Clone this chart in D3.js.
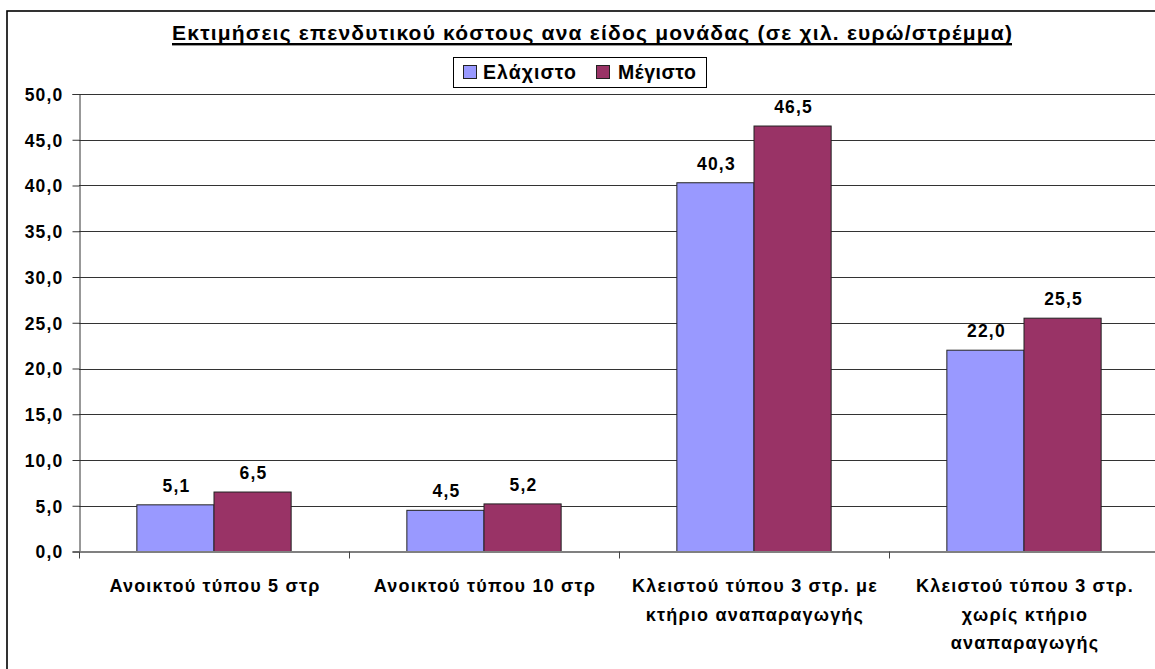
<!DOCTYPE html>
<html><head><meta charset="utf-8">
<script src="https://cdn.jsdelivr.net/npm/d3@7/dist/d3.min.js"></script>
<style>body{margin:0;background:#fff}svg{display:block}text{font-family:"Liberation Sans",Arial,sans-serif;font-weight:bold;fill:#000}</style>
</head><body><svg id="c" width="1155" height="669"></svg>
<script>
const title = "Εκτιμήσεις επενδυτικού κόστους ανα είδος μονάδας (σε χιλ. ευρώ/στρέμμα)";
const categories = [
  ["Ανοικτού τύπου 5 στρ"],
  ["Ανοικτού τύπου 10 στρ"],
  ["Κλειστού τύπου 3 στρ. με", "κτήριο αναπαραγωγής"],
  ["Κλειστού τύπου 3 στρ.", "χωρίς κτήριο", "αναπαραγωγής"]
];
const seriesNames = ["Ελάχιστο", "Μέγιστο"];
const seriesColors = ["#9999FF", "#993366"];
const minValues = [5.1, 4.5, 40.3, 22.0];
const maxValues = [6.5, 5.2, 46.5, 25.5];
const yTicks = [0, 5, 10, 15, 20, 25, 30, 35, 40, 45, 50];

const svg = d3.select("#c");
const L = 79, T = 94, B = 551.5, catW = 270;
const R = L + catW * categories.length;
const fmt = v => v.toFixed(1).replace(".", ",");

// outer border
svg.append("rect").attr("x", 7).attr("y", 11).attr("width", 1200).attr("height", 700)
  .attr("fill", "none").attr("stroke", "#000").attr("stroke-width", 1.6);

const x = d3.scaleBand().domain(d3.range(categories.length)).range([L, R]).paddingInner(0).paddingOuter(0);
const xs = d3.scaleBand().domain([0, 1]).range([0, catW]).paddingOuter(0.75).paddingInner(0);
const y = d3.scaleLinear().domain([0, 50]).range([B, T]);

// gridlines
svg.append("g").selectAll("line").data(yTicks).join("line")
  .attr("x1", L).attr("x2", R).attr("y1", d => Math.round(y(d)) + 0.5).attr("y2", d => Math.round(y(d)) + 0.5)
  .attr("stroke", d => d === 0 ? "#808080" : "#333").attr("stroke-width", 1);

// bars
const series = [minValues, maxValues];
series.forEach((vals, s) => {
  svg.append("g").selectAll("rect").data(vals).join("rect")
    .attr("x", (d, i) => x(i) + xs(s))
    .attr("y", d => y(d))
    .attr("width", xs.bandwidth())
    .attr("height", d => B - y(d))
    .attr("fill", seriesColors[s])
    .attr("stroke", "#222").attr("stroke-width", 1);
  svg.append("g").selectAll("text").data(vals).join("text")
    .attr("x", (d, i) => x(i) + xs(s) + xs.bandwidth() / 2 + 1)
    .attr("y", d => y(d) - 13)
    .attr("text-anchor", "middle")
    .style("font-size", "17.5px").style("letter-spacing", "1.2px")
    .text(d => fmt(d));
});

// y axis
const yAxis = d3.axisLeft(y).tickValues(yTicks).tickSize(7).tickFormat(fmt);
const gy = svg.append("g").attr("transform", `translate(${L + 0.5},0)`).call(yAxis);
gy.select(".domain").attr("stroke", "#333");
gy.selectAll(".tick line").attr("stroke", "#333");
gy.selectAll(".tick text").attr("x", -16).attr("dy", "0.36em")
  .style("font-size", "17.5px").style("letter-spacing", "1.2px")
  .style("font-family", '"Liberation Sans",Arial,sans-serif').style("font-weight", "bold").attr("fill", "#000");

// x axis
svg.append("line").attr("x1", L).attr("x2", R).attr("y1", B).attr("y2", B).attr("stroke", "#808080");
const xb = d3.range(categories.length + 1).map(i => L + i * catW);
svg.append("g").selectAll("line").data(xb).join("line")
  .attr("x1", d => d + 0.5).attr("x2", d => d + 0.5).attr("y1", B).attr("y2", B + 7).attr("stroke", "#444");

// x labels
categories.forEach((lines, i) => {
  const t = svg.append("text").attr("text-anchor", "middle")
    .style("font-size", "18px").style("letter-spacing", "1.2px");
  lines.forEach((ln, k) => {
    t.append("tspan").attr("x", x(i) + catW / 2 + 1).attr("y", 592 + k * 28.5).text(ln);
  });
});

// title
svg.append("text").attr("x", 592).attr("y", 40).attr("text-anchor", "middle")
  .style("font-size", "21px").attr("textLength", 840).attr("lengthAdjust", "spacing").text(title);
svg.append("rect").attr("x", 172).attr("y", 43).attr("width", 840).attr("height", 2.4).attr("fill", "#000");

// legend
svg.append("rect").attr("x", 453.5).attr("y", 57.5).attr("width", 253).attr("height", 30)
  .attr("fill", "#fff").attr("stroke", "#000").attr("stroke-width", 1);
const legX = [463.5, 596.5], legTX = [483, 618], legW = [93, 78];
seriesNames.forEach((n, s) => {
  svg.append("rect").attr("x", legX[s]).attr("y", 65.5).attr("width", 13).attr("height", 13)
    .attr("fill", seriesColors[s]).attr("stroke", "#222").attr("stroke-width", 1);
  svg.append("text").attr("x", legTX[s]).attr("y", 79).style("font-size", "19.5px")
    .attr("textLength", legW[s]).attr("lengthAdjust", "spacing").text(n);
});
</script></body></html>
